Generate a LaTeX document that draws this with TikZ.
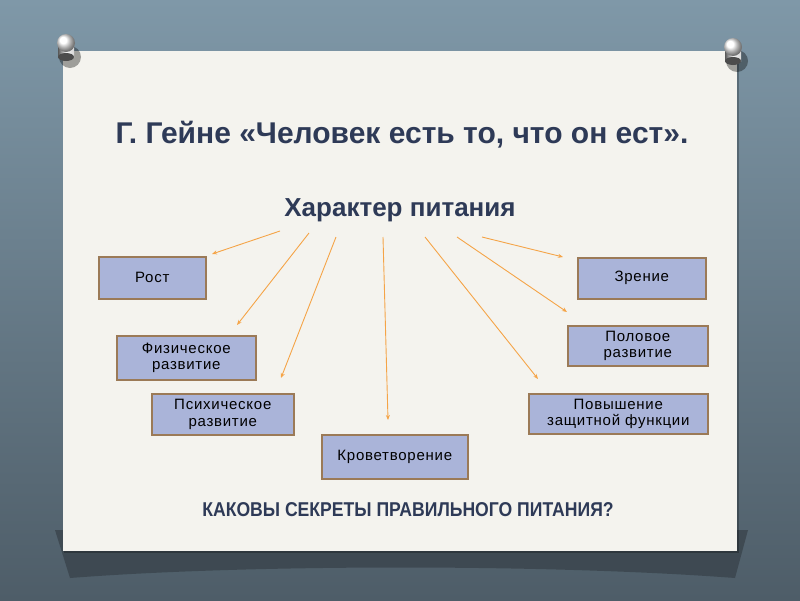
\documentclass[tikz,border=0pt]{standalone}
\usepackage{fontspec}
\setmainfont{Liberation Sans}
\usepackage{graphicx}
\usetikzlibrary{arrows.meta}
\definecolor{bgtop}{HTML}{7F98A8}
\definecolor{bgbot}{HTML}{4E5D68}
\definecolor{paper}{HTML}{F4F3EE}
\definecolor{titlecol}{HTML}{2E3A57}
\definecolor{boxfill}{HTML}{AAB4D9}
\definecolor{boxedge}{HTML}{9B7A57}
\definecolor{arrowcol}{HTML}{F5A447}
\definecolor{shadowcol}{HTML}{3A444C}
\tikzset{
  item/.style={draw=boxedge, line width=1.6pt, fill=boxfill, inner sep=0pt, anchor=north west, align=center, font=\fontsize{15}{16.5}\selectfont\addfontfeature{LetterSpace=5}, text=black},
  link/.style={draw=arrowcol, line width=0.9pt, -{Stealth[length=5pt,width=4pt]}},
}
\begin{document}
\begin{tikzpicture}[x=1pt,y=-1pt]
\useasboundingbox (0,0) rectangle (800,600);
% background
\shade[top color=bgtop, bottom color=bgbot] (0,0) rectangle (800,600);
% paper shadow
\fill[shadowcol, opacity=0.8] (55,530) -- (748,530) -- (735,578) .. controls (550,564) and (250,564) .. (70,578) -- cycle;
% paper
\fill[black, opacity=0.25] (64,53) rectangle (739,553);
\fill[paper] (63,51) rectangle (737,551);
% pins
\foreach \px/\py in {66/43, 733/47}{
  \fill[black, opacity=0.35] (\px+4,\py+14) circle (11);
  \shade[left color=gray!70!black, right color=gray!30, middle color=white!90!gray] (\px-8,\py) rectangle (\px+8,\py+14);
  \fill[gray!60!black] (\px,\py+14) ellipse (8 and 4);
  \shade[ball color=white, opacity=1] (\px,\py) circle (9);
}
% titles
\node[font=\bfseries\fontsize{30}{34}\selectfont, text=titlecol] (title) at (402,135) {Г. Гейне «Человек есть то, что он ест».};
\node[font=\bfseries\fontsize{26}{30}\selectfont, text=titlecol] (sub) at (400,210) {Характер питания};
\node[font=\bfseries\fontsize{20}{22}\selectfont, text=titlecol] (question) at (408,510) {\scalebox{0.88}[1]{КАКОВЫ СЕКРЕТЫ ПРАВИЛЬНОГО ПИТАНИЯ?}};
% boxes
\node[item, minimum width=107pt, minimum height=42pt] (rost) at (98,256) {Рост};
\node[item, minimum width=128pt, minimum height=41pt] (zrenie) at (577,257) {Зрение};
\node[item, minimum width=139pt, minimum height=44pt] (fiz) at (116,335) {Физическое\\развитие};
\node[item, minimum width=142pt, minimum height=41pt] (psih) at (151,393) {Психическое\\развитие};
\node[item, minimum width=140pt, minimum height=40pt] (polov) at (567,325) {Половое\\развитие};
\node[item, minimum width=179pt, minimum height=40pt] (povysh) at (528,393) {Повышение\\защитной функции};
\node[item, minimum width=146pt, minimum height=44pt] (krov) at (321,434) {Кроветворение};
% arrow tails and heads
\coordinate (t1) at (280,231); \coordinate (h1) at (212,254);
\coordinate (t2) at (309,233); \coordinate (h2) at (237,325);
\coordinate (t3) at (336,237); \coordinate (h3) at (281,378);
\coordinate (t4) at (383,237); \coordinate (h4) at (388,420);
\coordinate (t5) at (425,237); \coordinate (h5) at (538,379);
\coordinate (t6) at (457,237); \coordinate (h6) at (567,312);
\coordinate (t7) at (482,237); \coordinate (h7) at (563,257);
\draw[link] (t1) -- (h1);
\draw[link] (t2) -- (h2);
\draw[link] (t3) -- (h3);
\draw[link] (t4) -- (h4);
\draw[link] (t5) -- (h5);
\draw[link] (t6) -- (h6);
\draw[link] (t7) -- (h7);
\end{tikzpicture}
\end{document}
